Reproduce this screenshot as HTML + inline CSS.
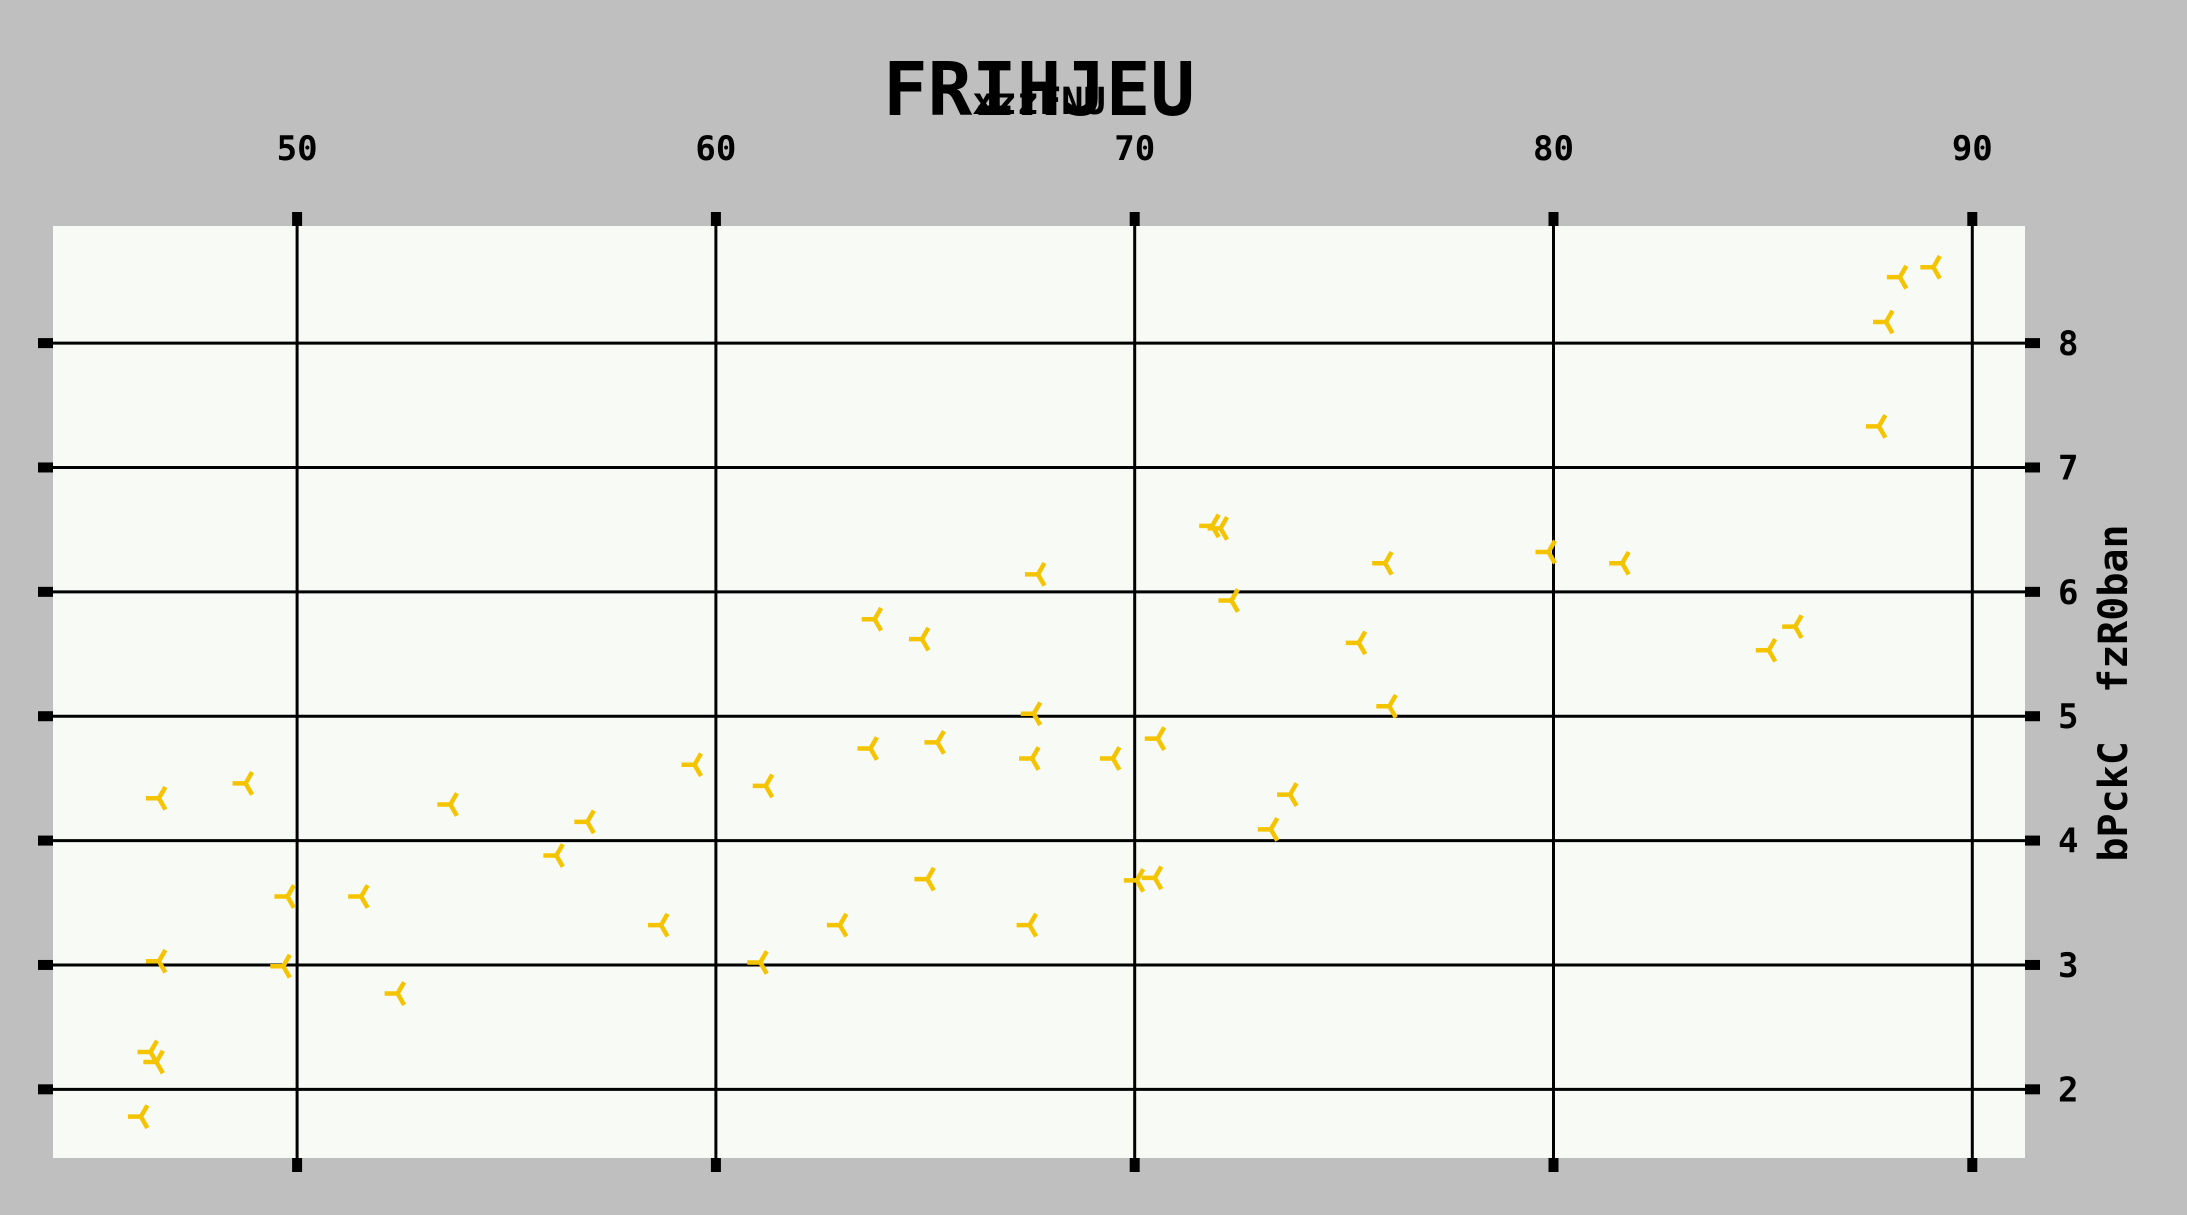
<!DOCTYPE html>
<html><head><meta charset="utf-8"><style>
html,body{margin:0;padding:0;background:#bfbfbf;}
svg{display:block;}
text{font-family:"DejaVu Sans Mono","Liberation Mono",monospace;font-weight:bold;fill:#000;white-space:pre;}
</style></head><body>
<svg id="chart" width="2187" height="1215" viewBox="0 0 2187 1215" xmlns="http://www.w3.org/2000/svg">
<rect x="0" y="0" width="2187" height="1215" fill="#bfbfbf"/>
<rect x="53" y="226" width="1972" height="932" fill="#f8faf5"/>
<g id="grid"></g>
<g id="ticks"></g>
<g id="points"></g>
<text x="1039" y="115" font-size="74" text-anchor="middle">FRIHJEU</text>
<text x="1039" y="114" font-size="37" text-anchor="middle">xzzFNU</text>
<text transform="translate(2127,693) rotate(-90)" font-size="40" text-anchor="middle" xml:space="preserve">bPckC  fzR0ban</text>
</svg>
<script>
const xTicks=[50,60,70,80,90];
const yTicks=[2,3,4,5,6,7,8];
const xVals=[89.07,88.27,87.94,87.77,71.85,72.05,67.69,75.98,79.88,81.64,72.31,63.79,64.92,75.35,85.77,85.14,67.59,76.08,63.69,65.29,67.55,69.48,70.55,59.49,61.19,48.77,46.70,53.66,56.93,73.71,73.25,56.19,49.77,51.53,65.05,70.05,70.48,58.69,62.96,67.49,46.70,49.67,61.06,52.40,46.50,46.64,46.27];
const yVals=[8.61,8.53,8.17,7.33,6.53,6.51,6.14,6.23,6.32,6.23,5.93,5.78,5.62,5.59,5.72,5.53,5.02,5.08,4.74,4.79,4.66,4.66,4.82,4.61,4.44,4.46,4.34,4.29,4.15,4.37,4.09,3.88,3.55,3.55,3.69,3.68,3.70,3.32,3.32,3.32,3.03,2.99,3.02,2.77,2.30,2.22,1.78];
const NS='http://www.w3.org/2000/svg';
const L=53,R=2025,T=226,B=1158;
function sx(v){return 297.1+(v-50)*41.88;}
function sy(v){return 343.1-(v-8)*124.37;}
function mk(tag,attrs,parent){const e=document.createElementNS(NS,tag);for(const k in attrs)e.setAttribute(k,attrs[k]);parent.appendChild(e);return e;}
const grid=document.getElementById('grid'),ticks=document.getElementById('ticks'),pts=document.getElementById('points'),svg=document.getElementById('chart');
xTicks.forEach(v=>{const x=sx(v);
 const g=mk('line',{x1:x,x2:x,y1:T,y2:B,stroke:'#000','stroke-width':3},grid);
 
 
 [T-14,B].forEach(y0=>{const t=mk('rect',{x:x-5,y:y0,width:10,height:14,fill:'#000'},ticks);
  
  });
 const lb=mk('text',{x:x,y:160,'font-size':34,'text-anchor':'middle'},svg);
 lb.textContent=v;
 
 
});
yTicks.forEach(v=>{const y=sy(v);
 const g=mk('line',{x1:L,x2:R,y1:y,y2:y,stroke:'#000','stroke-width':3},grid);
 
 
 [L-15,R].forEach(x0=>{const t=mk('rect',{x:x0,y:y-5,width:15,height:10,fill:'#000'},ticks);
  
  });
 const lb=mk('text',{x:2058,y:y+12,'font-size':34},svg);
 lb.textContent=v;
 
 
});
xVals.forEach((xv,i)=>{const cx=sx(xv),cy=sy(yVals[i]);const r=13;
 const p=mk('path',{d:`M${cx},${cy}L${cx-r},${cy}M${cx},${cy}L${cx+r*0.5},${cy-r*0.866}M${cx},${cy}L${cx+r*0.5},${cy+r*0.866}`,stroke:'#f5c400','stroke-width':4.5,fill:'none'},pts);
 
 
});
</script>
</body></html>
